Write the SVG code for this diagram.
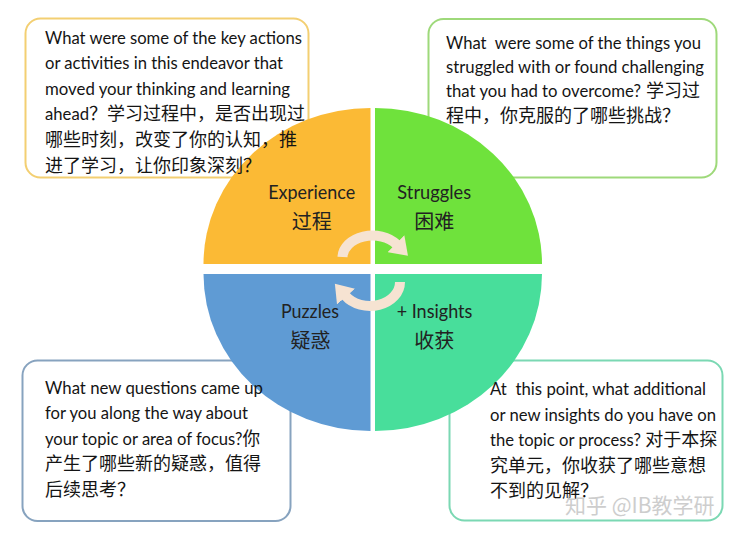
<svg xmlns="http://www.w3.org/2000/svg" width="740" height="538" viewBox="0 0 740 538">
<defs>
<style>
.box{fill:#ffffff;stroke-width:2}
.en{font-family:Lato,"Noto Sans CJK SC",sans-serif;font-size:17px;fill:#141414}
.zh{font-family:"Noto Sans CJK SC",sans-serif;font-size:18px;fill:#141414}
.qen{font-family:Lato,"Noto Sans CJK SC",sans-serif;font-size:19px;fill:#222222;text-anchor:middle}
.qzh{font-family:"Noto Sans CJK SC",sans-serif;font-size:20px;fill:#222222;text-anchor:middle}
.arc{fill:none;stroke:#F6E3D2;stroke-width:10;stroke-linecap:butt}
.wm{font-family:"Noto Sans CJK SC",sans-serif;font-size:21px;fill:#bdbdbd;opacity:0.75}
</style>
<marker id="head" markerUnits="userSpaceOnUse" markerWidth="18" markerHeight="24" refX="1" refY="12" orient="auto">
<path d="M0,0 L17,12 L0,24 Z" fill="#F6E3D2"/>
</marker>
</defs>
<rect width="740" height="538" fill="#ffffff"/>

<g id="box-experience">
<rect class="box" x="25.5" y="18.5" width="283" height="159" rx="15" stroke="#F3CF72"/>
</g>
<g id="box-struggles">
<rect class="box" x="428.5" y="19" width="288" height="158.5" rx="15" stroke="#9ED97A"/>
</g>
<g id="box-puzzles">
<rect class="box" x="22.5" y="360.5" width="268" height="160.5" rx="15" stroke="#87A3BF"/>
</g>
<g id="box-insights">
<rect class="box" x="449.5" y="360.5" width="273" height="160" rx="15" stroke="#7BD8B3"/>
</g>

<g id="quadrant-experience">
<path d="M370.5,264 L203.5,264 A167,156 0 0 1 370.5,108 Z" fill="#FBBA35"/>
<text class="qen" x="311.7" y="198.5" textLength="87" lengthAdjust="spacingAndGlyphs">Experience</text>
<text class="qzh" x="311.7" y="229">过程</text>
</g>
<g id="quadrant-struggles">
<path d="M375,264 L375,108 A167,156 0 0 1 542,264 Z" fill="#6FE23C"/>
<text class="qen" x="434.2" y="198.5" textLength="73.7" lengthAdjust="spacingAndGlyphs">Struggles</text>
<text class="qzh" x="434.2" y="229">困难</text>
</g>
<g id="quadrant-puzzles">
<path d="M370.5,274 L370.5,431 A167,157 0 0 1 203.5,274 Z" fill="#5F9BD4"/>
<text class="qen" x="310" y="318.3" textLength="58" lengthAdjust="spacingAndGlyphs">Puzzles</text>
<text class="qzh" x="310.5" y="348">疑惑</text>
</g>
<g id="quadrant-insights">
<path d="M375,274 L542,274 A167,157 0 0 1 375,431 Z" fill="#48DE9B"/>
<text class="qen" x="434.5" y="318.3" textLength="75.7" lengthAdjust="spacingAndGlyphs">+ Insights</text>
<text class="qzh" x="434.2" y="348">收获</text>
</g>

<g id="connectors">
<path class="arc" d="M342.5,257 A30,22 0 0 1 396.6,244.4" marker-end="url(#head)"/>
<path class="arc" d="M400,282 A30,24 0 0 1 345.4,295.8" marker-end="url(#head)"/>
</g>

<g id="text-experience">
<text class="en" x="45" y="43.5" textLength="257" lengthAdjust="spacingAndGlyphs">What were some of the key actions</text>
<text class="en" x="45" y="69" textLength="238" lengthAdjust="spacingAndGlyphs">or activities in this endeavor that</text>
<text class="en" x="45" y="94.5" textLength="245" lengthAdjust="spacingAndGlyphs">moved your thinking and learning</text>
<text class="en" x="45" y="120" textLength="44" lengthAdjust="spacingAndGlyphs">ahead</text>
<text class="zh" x="89" y="120">？学习过程中，是否出现过</text>
<text class="zh" x="45" y="146">哪些时刻，改变了你的认知，推</text>
<text class="zh" x="45" y="171.5">进了学习，让你印象深刻？</text>
</g>
<g id="text-struggles">
<text class="en" x="446" y="48.5" textLength="255" lengthAdjust="spacingAndGlyphs" xml:space="preserve">What  were some of the things you</text>
<text class="en" x="446" y="73" textLength="258" lengthAdjust="spacingAndGlyphs">struggled with or found challenging</text>
<text class="en" x="446" y="97" textLength="195" lengthAdjust="spacingAndGlyphs">that you had to overcome?</text>
<text class="zh" x="646" y="97">学习过</text>
<text class="zh" x="446" y="121.5">程中，你克服的了哪些挑战？</text>
</g>
<g id="text-puzzles">
<text class="en" x="45" y="393.5" textLength="218" lengthAdjust="spacingAndGlyphs">What new questions came up</text>
<text class="en" x="45" y="419" textLength="203" lengthAdjust="spacingAndGlyphs">for you along the way about</text>
<text class="en" x="45" y="444.5" textLength="215" lengthAdjust="spacingAndGlyphs">your topic or area of focus?<tspan style="font-size:18px">你</tspan></text>
<text class="zh" x="45" y="470">产生了哪些新的疑惑，值得</text>
<text class="zh" x="45" y="495.5">后续思考？</text>
</g>
<g id="text-insights">
<text class="en" x="490" y="395" textLength="216" lengthAdjust="spacingAndGlyphs" xml:space="preserve">At  this point, what additional</text>
<text class="en" x="490" y="420.5" textLength="226" lengthAdjust="spacingAndGlyphs">or new insights do you have on</text>
<text class="en" x="490" y="446" textLength="151" lengthAdjust="spacingAndGlyphs">the topic or process?</text>
<text class="zh" x="645.3" y="446">对于本探</text>
<text class="zh" x="490" y="471.5">究单元，你收获了哪些意想</text>
<text class="zh" x="490" y="497">不到的见解？</text>
</g>

<text class="wm" x="565" y="513">知乎 @IB教学研</text>
</svg>
